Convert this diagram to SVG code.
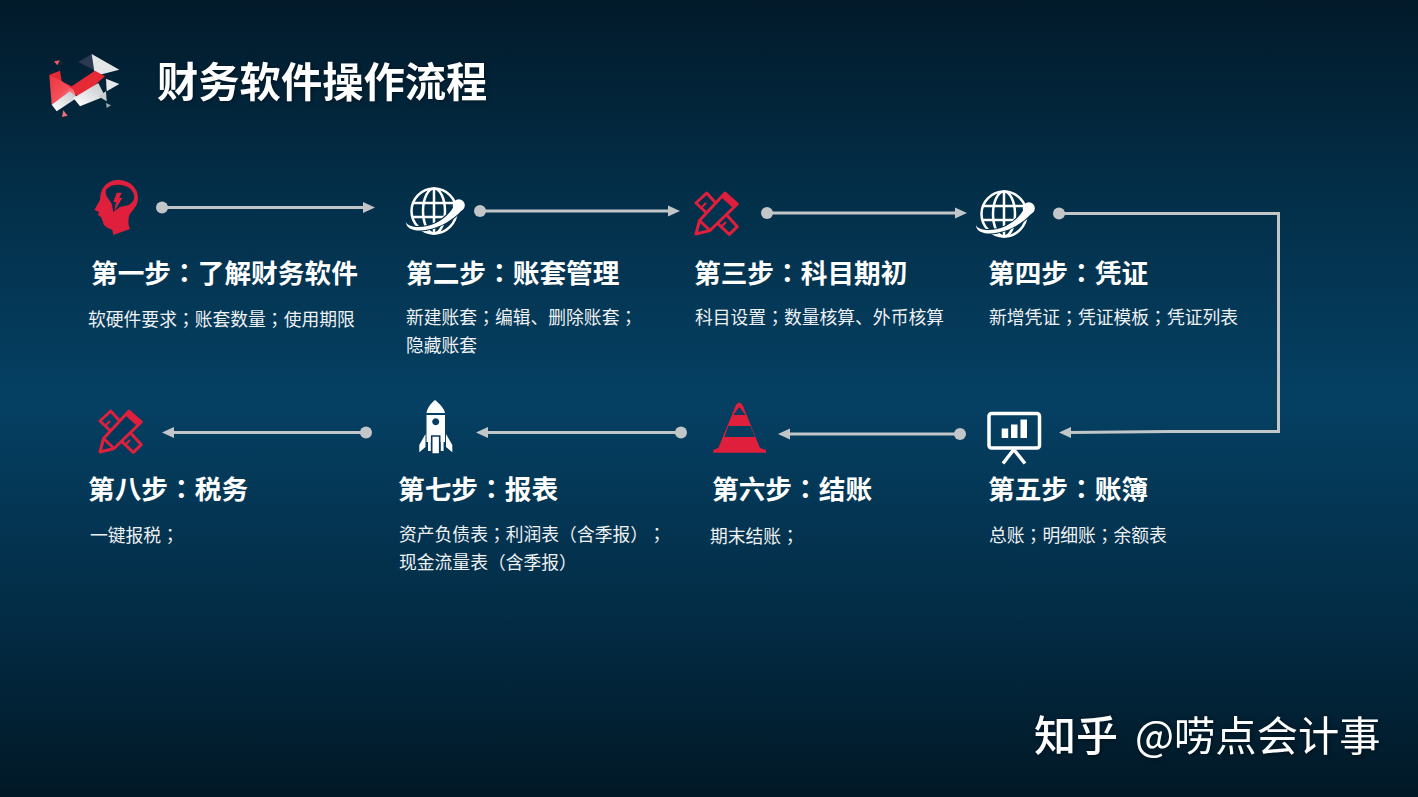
<svg xmlns="http://www.w3.org/2000/svg" xmlns:xlink="http://www.w3.org/1999/xlink" width="1418" height="797" viewBox="0 0 1418 797">
<style>
text{font-family:"Noto Sans CJK SC","Noto Sans",sans-serif;fill:#fff;text-spacing-trim:space-all}
.p{font-family:"Noto Sans CJK TC","Noto Sans",sans-serif}
.h{font-size:26.7px;font-weight:700}
.d{font-size:17.8px;fill:#eef1f3}
.line{fill:none;stroke:#c3c6c8;stroke-width:3}
.dot{fill:#c3c6c8}
.head{fill:#c3c6c8}
.red{fill:#e01f3d}
.w{fill:#fff}
.sh{filter:drop-shadow(1.500px 1.500px 2px rgba(0,0,0,.4))}
</style>
<defs>
<linearGradient id="bg" x1="0" y1="0" x2="0" y2="1">
<stop offset="0" stop-color="#021a2a"/><stop offset=".25" stop-color="#032f49"/><stop offset=".5" stop-color="#054063"/><stop offset=".75" stop-color="#032e48"/><stop offset="1" stop-color="#011826"/>
</linearGradient>
<linearGradient id="lr" x1="0" y1="0" x2="1" y2="1"><stop offset="0" stop-color="#ee3340"/><stop offset=".55" stop-color="#f4505a"/><stop offset="1" stop-color="#f7c9c9"/></linearGradient>
<linearGradient id="lw" x1="0" y1="1" x2="1" y2="0"><stop offset="0" stop-color="#ffffff"/><stop offset="1" stop-color="#c4c8cc"/></linearGradient>
<g id="globe">
<g fill="none" stroke="#fff" stroke-width="2.500">
<circle cx="0" cy="0" r="22.500"/>
<ellipse cx="0" cy="0" rx="11" ry="22.500"/>
<path d="M0 -22.500V22.500M-21 -8H21M-22 6H22"/>
</g>
<path class="w" d="M-28 11C-26 17 -10 18 2 12C10 8 16 3 21 -7L28 -1C18 10 6 16 -6 18.500C-17 21 -28 19 -28 11Z" stroke="#04334f" stroke-width="2" paint-order="stroke"/>
<circle class="w" cx="24.800" cy="-5.700" r="6"/>
</g>
<g id="tools" stroke="#e01f3d" stroke-width="3" stroke-linejoin="round">
<path fill="none" d="M-21 -11L-10.300 -21L20.300 12.700L12.300 20.300Z"/>
<path fill="none" stroke-width="2" d="M-15 -7L-11 -11M5 12L9 8"/>
<path d="M-21 20L-17.500 6.500L8 -21L20.300 -10L-7 16.500Z"/>
<path fill="none" d="M-17.500 6.500L-7 16.500"/>
<path class="red" stroke="none" d="M4 -17L8 -21L20.300 -10L16 -6Z"/>
</g>
</defs>
<rect width="1418" height="797" fill="url(#bg)"/>

<g id="logo">
<polygon points="54,61.300 60,60.300 57.300,65.300" fill="#ee5a64"/>
<polygon points="60,60 64,63 58,66" fill="#16263a"/>
<polygon points="78.300,62 91.700,54 95,70.700" fill="#2b3a50"/>
<polygon points="91.700,54 119.300,69.700 95,76" fill="#e4e6e8"/>
<polygon points="49.300,74.700 60,70.700 61.700,81.300 71.700,86.300 95,70.700 105,76.300 80,98 62,84" fill="#e52a36"/>
<polygon points="49.300,75 51.700,104.700 76.700,98 73.300,89.700 61.700,81.300" fill="url(#lr)"/>
<polygon points="51.700,104.700 56.700,111.300 76.700,98 70,91.300" fill="url(#lw)"/>
<polygon points="73.300,98 98.300,83 105,96.300 80,106.300" fill="url(#lw)"/>
<polygon points="106,78.700 119.300,84 106.700,91.300" fill="#e6e8ea"/>
<polygon points="106,91.300 106.700,101.300 98.300,96.300" fill="#c8ced2"/>
<polygon points="106,103 111,105.300 106.700,108" fill="#9aa8b2"/>
<polygon points="63.300,110.300 67.700,115.700 62,117" fill="#ee7078"/>
</g>
<text class="sh" x="157" y="97" font-size="41.300" font-weight="700" id="title">财务软件操作流程</text>

<g id="connectors">
<path class="line" d="M162 207.500H365"/><polygon class="head" points="375,207.500 363,202 363,213"/><circle class="dot" cx="162" cy="207.500" r="6"/>
<path class="line" d="M480 211H670"/><polygon class="head" points="680,211 668,205.500 668,216.500"/><circle class="dot" cx="480" cy="211" r="6"/>
<path class="line" d="M767 213H957"/><polygon class="head" points="967,213 955,207.500 955,218.500"/><circle class="dot" cx="767" cy="213" r="6"/>
<path class="line" d="M1059 213.500H1278.500V431.500H1170L1068 432.500"/><polygon class="head" points="1059,432.500 1071,427 1071,438"/><circle class="dot" cx="1059" cy="213.500" r="6"/>
<path class="line" d="M960 434H788"/><polygon class="head" points="778,434 790,428.500 790,439.500"/><circle class="dot" cx="960" cy="434" r="6"/>
<path class="line" d="M681 432.500H486"/><polygon class="head" points="476,432.500 488,427 488,438"/><circle class="dot" cx="681" cy="432.500" r="6"/>
<path class="line" d="M366 432.500H172"/><polygon class="head" points="162,432.500 174,427 174,438"/><circle class="dot" cx="366" cy="432.500" r="6"/>
</g>

<g id="step1">
<path class="red" fill-rule="evenodd" d="M118 180C130 180 138 188 138 198C138 207 131 211 129 216C128 221 128 225 130 229L113.300 235L112.300 230C108 228 103 226 103 222L101 217L98 215L99 212L94.300 210L100 200C100 188 107 180 118 180ZM118.300 184.700C111 184.700 105.700 188 105.700 192C105.700 196 108 198 111.700 203.700L113.300 212L120 207L128.300 205.300C132 203 134.300 200 134.300 197C134.300 190 127 184.700 118.300 184.700Z"/>
<path class="red" d="M116.700 192.700H121.700L119.300 198H122.300L114.300 211.300L116 202H113.300Z"/>
<text class="h" x="91" y="283">第一步<tspan class="p">：</tspan>了解财务软件</text>
<text class="d" x="88" y="326">软硬件要求<tspan class="p">；</tspan>账套数量<tspan class="p">；</tspan>使用期限</text>
</g>
<g id="step2">
<use href="#globe" x="434" y="211" xlink:href="#globe"/>
<text class="h" x="406" y="283">第二步<tspan class="p">：</tspan>账套管理</text>
<text class="d" x="406" y="324">新建账套<tspan class="p">；</tspan>编辑、删除账套<tspan class="p">；</tspan></text>
<text class="d" x="406" y="352">隐藏账套</text>
</g>
<g id="step3">
<use href="#tools" x="717" y="214" fill="#03334f" xlink:href="#tools"/>
<text class="h" x="694" y="283">第三步<tspan class="p">：</tspan>科目期初</text>
<text class="d" x="695" y="324">科目设置<tspan class="p">；</tspan>数量核算、外币核算</text>
</g>
<g id="step4">
<use href="#globe" x="1004" y="214" xlink:href="#globe"/>
<text class="h" x="988" y="283">第四步<tspan class="p">：</tspan>凭证</text>
<text class="d" x="989" y="324">新增凭证<tspan class="p">；</tspan>凭证模板<tspan class="p">；</tspan>凭证列表</text>
</g>
<g id="step5">
<rect x="989" y="413.500" width="50.500" height="34.500" rx="2.500" fill="none" stroke="#fff" stroke-width="3.500"/>
<rect class="w" x="1001.700" y="428.500" width="6.500" height="9.500"/><rect class="w" x="1011" y="424.500" width="6.500" height="13.500"/><rect class="w" x="1020.500" y="419.500" width="6.500" height="18.500"/>
<path d="M1013.800 449.500L1003 463.500M1013.800 449.500L1025 463.500" stroke="#fff" stroke-width="3.500" fill="none"/>
<text class="h" x="988" y="499">第五步<tspan class="p">：</tspan>账簿</text>
<text class="d" x="989" y="542">总账<tspan class="p">；</tspan>明细账<tspan class="p">；</tspan>余额表</text>
</g>
<g id="step6">
<path class="red" fill-rule="evenodd" d="M739.300 402.700C741 402.700 742 404 743 406L760 448L766 450V452.700H713.300V450L718.300 448L735.500 406C736.500 404 737.500 402.700 739.300 402.700ZM739.300 407L733.300 415H745.500ZM728.300 426L724.500 437H755L750.500 426Z"/>
<text class="h" x="712" y="499">第六步<tspan class="p">：</tspan>结账</text>
<text class="d" x="710" y="543">期末结账<tspan class="p">；</tspan></text>
</g>
<g id="step7">
<path class="w" fill-rule="evenodd" d="M435 400C440 404 444.500 409 445 413H426.500C427 409 430 404 435 400ZM426.500 415H445V442H426.500ZM435.700 418.200A3.500 3.500 0 1 0 435.710 418.200Z"/>
<path class="w" d="M425.500 434V447L419.300 452.300V445ZM446 434V447L452.300 452.300V445Z"/>
<path class="w" d="M431.700 436H439.700V454H431.700Z" stroke="#04385a" stroke-width="1.600"/>
<rect class="w" x="428" y="442" width="2.800" height="9"/><rect class="w" x="440.800" y="442" width="2.800" height="9"/>
<text class="h" x="398" y="499">第七步<tspan class="p">：</tspan>报表</text>
<text class="d" x="399" y="541">资产负债表<tspan class="p">；</tspan>利润表<tspan class="p">（</tspan>含季报<tspan class="p">）</tspan><tspan class="p">；</tspan></text>
<text class="d" x="399" y="569">现金流量表<tspan class="p">（</tspan>含季报<tspan class="p">）</tspan></text>
</g>
<g id="step8">
<use href="#tools" x="121" y="432" fill="#04385a" xlink:href="#tools"/>
<text class="h" x="88" y="499">第八步<tspan class="p">：</tspan>税务</text>
<text class="d" x="90" y="542">一键报税<tspan class="p">；</tspan></text>
</g>
<g id="watermark" class="sh">
<text x="1034" y="751" font-size="42" font-weight="500">知乎</text>
<text x="1135" y="751" font-size="41.300" font-weight="400">@唠点会计事</text>
</g>
</svg>
